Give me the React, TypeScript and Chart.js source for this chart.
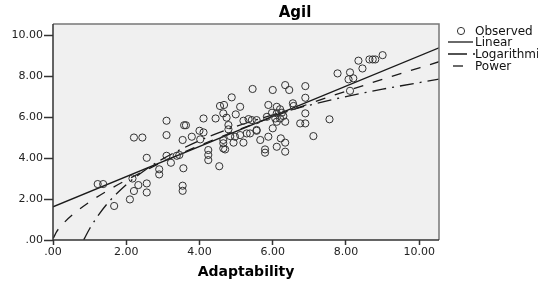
import React, { useEffect, useRef } from 'react';
import { Chart, registerables } from 'chart.js';

Chart.register(...registerables);

const adaptability = [
  1.22, 1.37, 1.67, 2.10, 2.21, 2.33, 2.17, 2.56, 2.56, 2.56,
  2.90, 2.90, 3.10, 3.22, 3.38, 2.21, 2.44, 3.10, 3.10, 3.58,
  3.63, 3.54, 3.45, 3.56, 3.54, 3.54, 3.79, 4.00, 4.11, 4.02,
  4.11, 4.44, 4.74, 4.65, 4.99, 4.56, 4.67, 5.11, 4.88, 5.45,
  4.79, 4.79, 5.20, 5.34, 5.56, 4.84, 4.97, 5.11, 5.29, 4.65,
  4.65, 4.65, 4.70, 4.93, 5.20, 5.66, 4.24, 4.24, 4.24, 4.54,
  5.79, 5.79, 6.00, 6.34, 6.45, 6.89, 6.89, 6.55, 6.57, 5.88,
  6.11, 6.20, 5.98, 6.11, 6.25, 6.29, 6.20, 6.07, 5.84, 5.56,
  5.43, 6.34, 6.11, 6.89, 6.75, 6.89, 7.55, 6.00, 5.56, 5.88,
  7.11, 6.22, 6.34, 6.11, 6.34, 7.77, 8.07, 8.20, 8.11, 8.11,
  8.34, 8.45, 8.64, 8.73, 8.80, 9.00, 5.38,
];
const agil = [
  2.73, 2.73, 1.66, 1.98, 2.39, 2.68, 3.00, 2.76, 2.32, 4.01,
  3.45, 3.20, 4.11, 3.77, 4.11, 5.00, 5.00, 5.82, 5.12, 5.60,
  5.60, 4.88, 4.15, 3.50, 2.65, 2.40, 5.04, 5.33, 5.25, 4.91,
  5.93, 5.93, 5.97, 6.18, 6.13, 6.54, 6.59, 6.50, 6.96, 7.37,
  5.61, 5.40, 5.82, 5.90, 5.33, 5.07, 5.04, 5.12, 5.20, 4.88,
  4.72, 4.47, 4.42, 4.75, 4.75, 4.88, 4.39, 4.15, 3.90, 3.60,
  4.42, 4.26, 7.32, 7.56, 7.32, 7.51, 6.94, 6.67, 6.54, 6.59,
  6.50, 6.38, 6.21, 6.18, 6.21, 6.05, 5.93, 5.93, 6.01, 5.85,
  5.85, 5.77, 5.77, 6.18, 5.69, 5.69, 5.89, 5.45, 5.37, 5.04,
  5.07, 4.96, 4.75, 4.55, 4.31, 8.13, 7.84, 7.89, 8.18, 7.28,
  8.75, 8.37, 8.81, 8.81, 8.81, 9.02, 5.20,
];

// Fitted curves
const linearFitX = [0, 10.54];
const linearFitY = [1.62, 9.38];
const logFitX = [0.84, 0.9, 1.0, 1.2, 1.5, 2, 2.5, 3, 4, 5, 6, 7, 8, 9, 10.54];
const logFitY = [0.01, 0.22, 0.55, 1.11, 1.81, 2.70, 3.39, 3.96, 4.85, 5.54, 6.10, 6.58, 7.00, 7.36, 7.85];
const powerFitX = [0.01, 0.1, 0.3, 0.6, 1, 1.5, 2, 3, 4, 5, 6, 7, 8, 9, 10.54];
const powerFitY = [0.09, 0.41, 0.84, 1.33, 1.86, 2.42, 2.92, 3.81, 4.61, 5.33, 6.01, 6.65, 7.26, 7.84, 8.70];

const tickValues = [0, 2, 4, 6, 8, 10];
const axisMin = 0;
const axisMax = 10.54;

const chartTitle = 'Agil';
const xAxisTitle = 'Adaptability';
const legendLabels = ['Observed', 'Linear', 'Logarithmic', 'Power'];

const FONT = '"DejaVu Sans", "Liberation Sans", Arial, sans-serif';
const INK = '#1a1a1a';
const LOG_DASH = [14, 6, 2, 6];
const POWER_DASH = [10, 10];

const fmt = (v: number) => (v === 0 ? '.00' : v.toFixed(2));
const toPts = (xs: number[], ys: number[]) => xs.map((x, i) => ({ x, y: ys[i] }));

const decorations = {
  id: 'decorations',
  beforeDraw(chart: any) {
    const { ctx, chartArea: a, width, height } = chart;
    ctx.save();
    ctx.fillStyle = '#ffffff';
    ctx.fillRect(0, 0, width, height);
    ctx.fillStyle = '#f0f0f0';
    ctx.fillRect(a.left, a.top, a.right - a.left, a.bottom - a.top);
    ctx.restore();
  },
  afterDraw(chart: any) {
    const { ctx, chartArea: a } = chart;
    ctx.save();
    // frame
    ctx.lineWidth = 1.5;
    ctx.strokeStyle = '#777';
    ctx.beginPath();
    ctx.moveTo(a.left, a.top);
    ctx.lineTo(a.right, a.top);
    ctx.lineTo(a.right, a.bottom);
    ctx.stroke();
    ctx.strokeStyle = '#333';
    ctx.beginPath();
    ctx.moveTo(a.left, a.top);
    ctx.lineTo(a.left, a.bottom);
    ctx.lineTo(a.right, a.bottom);
    ctx.stroke();

    // title
    ctx.fillStyle = '#000';
    ctx.textAlign = 'center';
    ctx.textBaseline = 'middle';
    ctx.font = `bold 15px ${FONT}`;
    ctx.fillText(chartTitle, 295, 13);

    // x axis title
    ctx.font = `bold 14px ${FONT}`;
    ctx.fillText(xAxisTitle, (a.left + a.right) / 2, 272);

    // legend
    const lx0 = a.right + 9;
    const lx1 = a.right + 34;
    const tx = a.right + 36;
    const rows = [31, 42, 54, 66];
    ctx.font = `12px ${FONT}`;
    ctx.textAlign = 'left';
    ctx.fillStyle = '#111';
    legendLabels.forEach((lab, i) => ctx.fillText(lab, tx, rows[i] + 0.5));

    ctx.strokeStyle = '#333';
    ctx.lineWidth = 1;
    ctx.beginPath();
    ctx.arc(a.right + 22, rows[0], 3.6, 0, Math.PI * 2);
    ctx.stroke();

    ctx.strokeStyle = INK;
    ctx.lineWidth = 1.3;
    ctx.setLineDash([]);
    ctx.beginPath();
    ctx.moveTo(lx0, rows[1]);
    ctx.lineTo(lx1, rows[1]);
    ctx.stroke();

    ctx.setLineDash([19, 6, 2, 6]);
    ctx.beginPath();
    ctx.moveTo(lx0, rows[2]);
    ctx.lineTo(lx1 + 3, rows[2]);
    ctx.stroke();

    ctx.setLineDash(POWER_DASH);
    ctx.lineDashOffset = 15;
    ctx.beginPath();
    ctx.moveTo(lx0, rows[3]);
    ctx.lineTo(lx0 + 18, rows[3]);
    ctx.stroke();
    ctx.restore();
  },
};

export default function App() {
  const ref = useRef<HTMLCanvasElement | null>(null);

  useEffect(() => {
    if (!ref.current) return;
    const tickFont = { family: FONT, size: 11 };
    const chart = new Chart(ref.current, {
      type: 'scatter',
      data: {
        datasets: [
          {
            label: legendLabels[0],
            data: toPts(adaptability, agil),
            showLine: false,
            pointStyle: 'circle',
            pointRadius: 3.6,
            pointBorderWidth: 1,
            pointBorderColor: '#333',
            pointBackgroundColor: 'rgba(0,0,0,0)',
          },
          {
            label: legendLabels[1],
            data: toPts(linearFitX, linearFitY),
            showLine: true,
            pointRadius: 0,
            borderColor: INK,
            borderWidth: 1.3,
          },
          {
            label: legendLabels[2],
            data: toPts(logFitX, logFitY),
            showLine: true,
            pointRadius: 0,
            borderColor: INK,
            borderWidth: 1.3,
            borderDash: LOG_DASH,
            cubicInterpolationMode: 'monotone',
          },
          {
            label: legendLabels[3],
            data: toPts(powerFitX, powerFitY),
            showLine: true,
            pointRadius: 0,
            borderColor: INK,
            borderWidth: 1.3,
            borderDash: POWER_DASH,
            cubicInterpolationMode: 'monotone',
          },
        ] as any,
      },
      options: {
        responsive: false,
        animation: false,
        devicePixelRatio: 1,
        layout: { padding: { left: 0, right: 99, top: 24, bottom: 0 } },
        plugins: { legend: { display: false }, title: { display: false }, tooltip: { enabled: false } },
        scales: {
          x: {
            type: 'linear',
            min: axisMin,
            max: axisMax,
            afterBuildTicks: (s: any) => { s.ticks = tickValues.map((v) => ({ value: v })); },
            afterFit: (s: any) => { s.height = 42; },
            ticks: { callback: (v: any) => fmt(Number(v)), font: tickFont, color: '#222', padding: 1, maxRotation: 0, autoSkip: false },
            grid: { display: true, drawOnChartArea: false, drawTicks: true, tickLength: 5, color: '#333', tickWidth: 1.5 },
            border: { display: false },
          },
          y: {
            type: 'linear',
            min: axisMin,
            max: axisMax,
            afterBuildTicks: (s: any) => { s.ticks = tickValues.map((v) => ({ value: v })); },
            afterFit: (s: any) => { s.width = 53; },
            ticks: { callback: (v: any) => fmt(Number(v)), font: tickFont, color: '#222', padding: 1, autoSkip: false },
            grid: { display: true, drawOnChartArea: false, drawTicks: true, tickLength: 9, color: '#333', tickWidth: 1.5 },
            border: { display: false },
          },
        },
      } as any,
      plugins: [decorations],
    });
    return () => chart.destroy();
  }, []);

  return (
    <div style={{ position: 'absolute', left: 0, top: 0, width: 538, height: 282 }}>
      <canvas ref={ref} width={538} height={282} style={{ display: 'block', width: 538, height: 282 }} />
    </div>
  );
}
